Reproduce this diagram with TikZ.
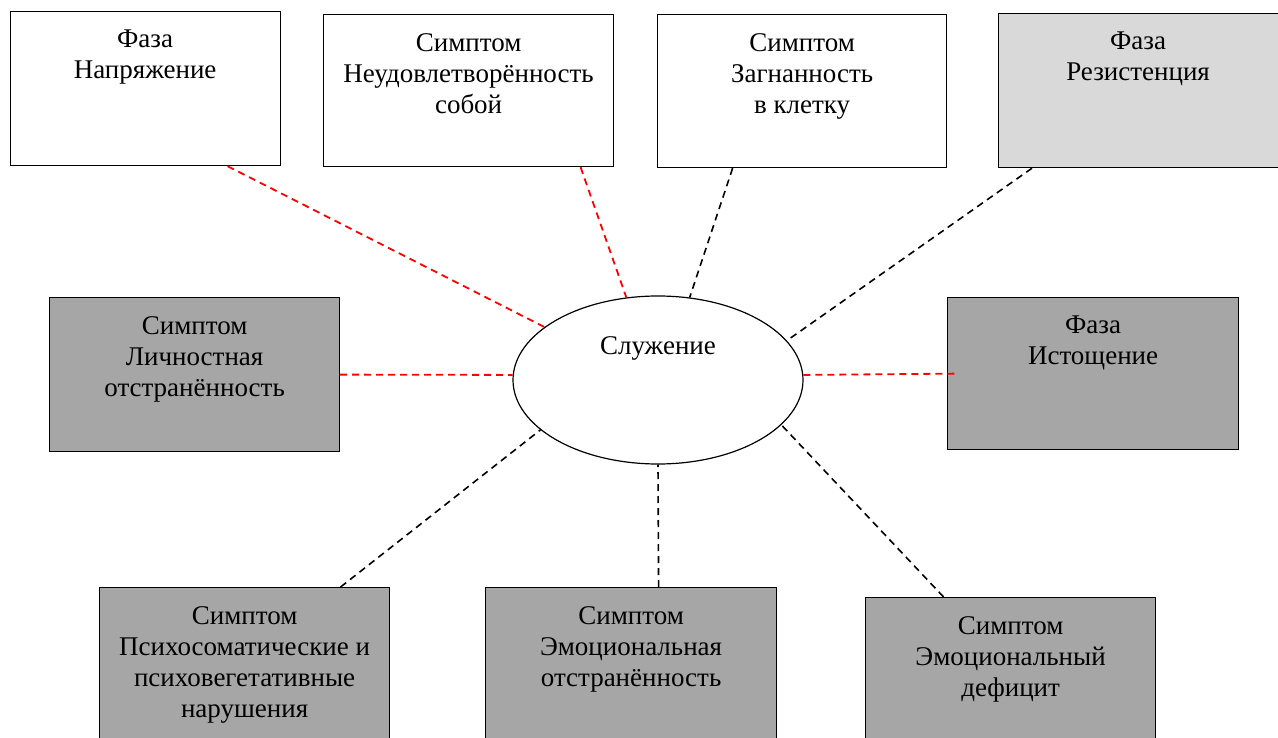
\documentclass[tikz,border=0pt]{standalone}
\usepackage{fontspec}
\setmainfont{Liberation Serif}
\usetikzlibrary{positioning}
\usetikzlibrary{shapes.geometric}
\definecolor{darkcell}{HTML}{A6A6A6}
\definecolor{lightcell}{HTML}{D9D9D9}

\begin{document}
\begin{tikzpicture}[x=1pt, y=-1pt,
  cell/.style={draw, line width=1.2pt, anchor=north west, minimum width=290pt, minimum height=154pt, inner sep=0pt},
  caption/.style={align=center, anchor=north, inner sep=0pt, font=\fontsize{27}{31}\selectfont},
  redlink/.style={draw=red, line width=1.8pt, dash pattern=on 7pt off 5pt},
  blacklink/.style={draw=black, line width=1.6pt, dash pattern=on 7pt off 5pt}]
  \useasboundingbox (0,0) rectangle (1278,738);
  \clip (0,0) rectangle (1278,738);
  \fill[white] (0,0) rectangle (1278,738);

  % top row
  \node[cell, minimum width=270pt] at (9.5,11) (nap) {};
  \node[cell, minimum height=152pt] at (323,14) (ned) {};
  \node[cell, minimum width=289pt, minimum height=153pt] at (657,14) (zag) {};
  \node[cell, fill=lightcell, minimum width=280pt] at (997.5,13) (rez) {};

  % middle row
  \node[cell, fill=darkcell] at (49,297) (lich) {};
  \node[cell, fill=darkcell, minimum width=291pt, minimum height=152pt] at (947,297) (ist) {};
  \node[draw, ellipse, line width=1.2pt, minimum width=290pt, minimum height=168pt, inner sep=0pt] at (658,380) (serv) {};

  % bottom row
  \node[cell, fill=darkcell] at (99,587) (psy) {};
  \node[cell, fill=darkcell, minimum width=291pt] at (485,587) (emo) {};
  \node[cell, fill=darkcell] at (865,597) (def) {};

  % texts
  \node[caption] at ([yshift=-19pt]nap.north) (napT) {Фаза\\Напряжение};
  \node[caption] at ([yshift=-19pt]ned.north) (nedT) {Симптом\\Неудовлетворённость\\собой};
  \node[caption] at ([yshift=-19pt]zag.north) (zagT) {Симптом\\Загнанность\\в клетку};
  \node[caption] at ([yshift=-19pt]rez.north) (rezT) {Фаза\\Резистенция};
  \node[caption] at ([yshift=-19pt]lich.north) (lichT) {Симптом\\Личностная\\отстранённость};
  \node[caption] at ([yshift=-19pt]ist.north) (istT) {Фаза\\Истощение};
  \node[caption, anchor=base] at (658,355) (servT) {Служение};
  \node[caption] at ([yshift=-19pt]psy.north) (psyT) {Симптом\\Психосоматические и\\психовегетативные\\нарушения};
  \node[caption] at ([yshift=-19pt]emo.north) (emoT) {Симптом\\Эмоциональная\\отстранённость};
  \node[caption] at ([yshift=-19pt]def.north) (defT) {Симптом\\Эмоциональный\\дефицит};

  % links
  \draw[redlink] ([xshift=82.5pt]nap.south) -- (serv.155);
  \draw[redlink] ([xshift=112pt]ned.south) -- (serv.111);
  \draw[blacklink] ([xshift=-69.5pt]zag.south) -- (serv.69);
  \draw[blacklink] ([xshift=34.5pt]rez.south west) -- (serv.17);
  \draw[redlink] (lich.east) -- (serv.178);
  \draw[redlink] (serv.2) -- ([xshift=11pt]ist.west);
  \draw[blacklink] ([xshift=96pt]psy.north) -- (serv.203);
  \draw[blacklink] ([xshift=27.5pt]emo.north) -- (serv.south);
  \draw[blacklink] ([xshift=-67pt]def.north) -- (serv.340);
\end{tikzpicture}
\end{document}
